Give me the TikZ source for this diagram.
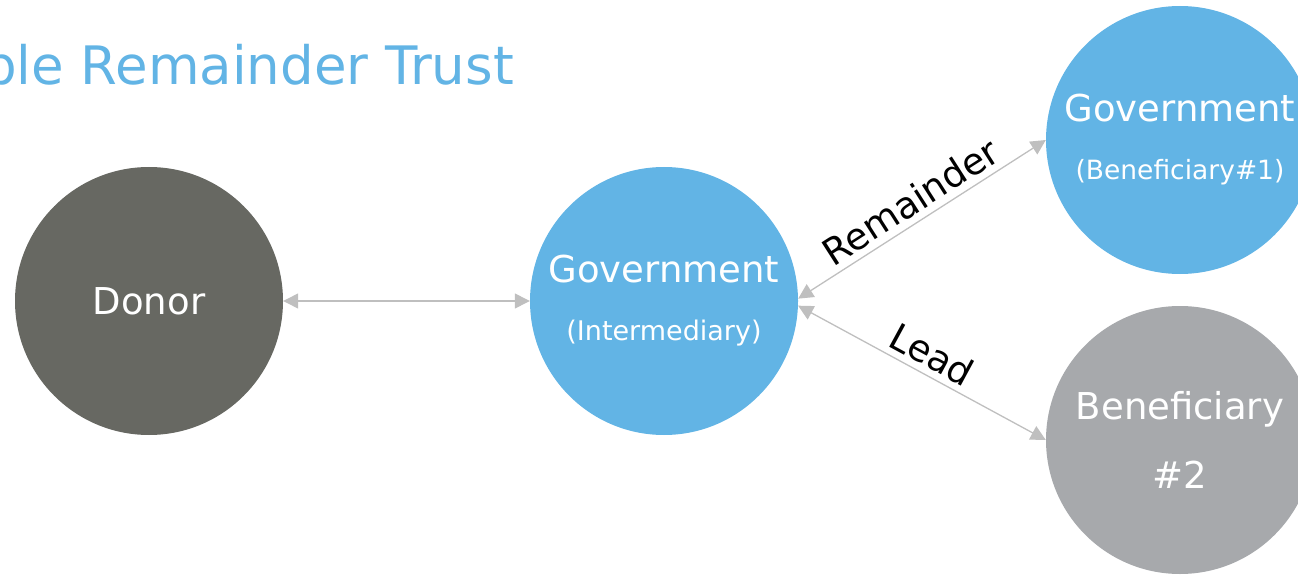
\documentclass[tikz,border=0pt]{standalone}
\usepackage{fontspec}
\setmainfont{DejaVu Sans}
\usepackage{xcolor}
\usepackage{tikz}
\usetikzlibrary{positioning,arrows.meta}

\definecolor{trustblue}{HTML}{62B4E5}
\definecolor{donorgray}{HTML}{676862}
\definecolor{benegray}{HTML}{A7A9AC}
\definecolor{linkgray}{HTML}{BFBFBF}

\begin{document}
\begin{tikzpicture}[x=1pt,y=1pt,
	party/.style={circle, minimum size=268pt, inner sep=0pt, text=white, align=center, font=\fontsize{37}{58}\selectfont},
	link/.style={color=linkgray, line width=1.3pt, arrows={Triangle[width=15pt,length=15pt]-Triangle[width=15pt,length=15pt]}},
	lbl/.style={font=\fontsize{37}{42}\selectfont, text=black, sloped, above=3pt}]
	\useasboundingbox (0,0) rectangle (1298,574);
	\clip (0,0) rectangle (1298,574);
	\node[anchor=base west, inner sep=0pt, text=trustblue, font=\fontsize{53}{60}\selectfont] (title) at (-17,489) {ble Remainder Trust};
	\node[party, fill=donorgray] (donor) at (149,273) {Donor};
	\node[party, fill=trustblue] (inter) at (664,273) {Government\\{\fontsize{27}{58}\selectfont (Intermediary)}};
	\node[party, fill=trustblue] (gov1) at (1180,434) {Government\\{\fontsize{26.5}{57}\selectfont (Beneficiary\#1)}};
	\node[party, fill=benegray] (ben2) at (1180,134) {Beneficiary\\[11pt]\#2};
	
	\path[link] (donor) edge (inter);
	\path[link] (inter.1) edge node[lbl]{Remainder} (gov1.west);
	\path[link] (inter.-2) edge node[lbl]{Lead} (ben2.west);
\end{tikzpicture}
\end{document}
